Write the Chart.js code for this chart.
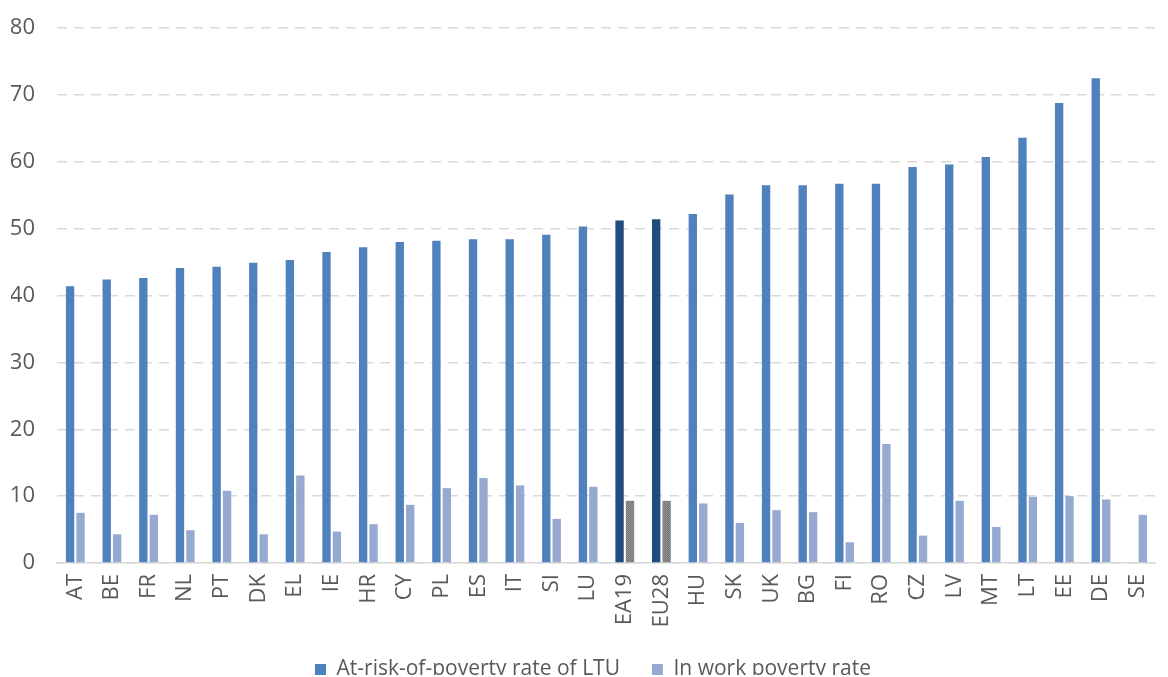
<!DOCTYPE html>
<html>
<head>
<meta charset="utf-8">
<script src="https://cdn.jsdelivr.net/npm/chart.js@4/dist/chart.umd.min.js"></script>
<style>
  html, body { margin: 0; padding: 0; background: #fff; overflow: hidden; }
  #wrap { position: absolute; left: 0; top: 0; width: 1175px; height: 677px; }
</style>
</head>
<body>
<div id="wrap"><canvas id="povertyChart" width="1175" height="677"></canvas></div>
<script>
// Countries, sorted by the LTU poverty rate; EA19 / EU28 are the aggregates
const countries = ["AT", "BE", "FR", "NL", "PT", "DK", "EL", "IE", "HR", "CY", "PL", "ES", "IT", "SI", "LU",
  "EA19", "EU28", "HU", "SK", "UK", "BG", "FI", "RO", "CZ", "LV", "MT", "LT", "EE", "DE", "SE"];

const ltuRate = [41.4, 42.4, 42.6, 44.1, 44.3, 44.9, 45.3, 46.5, 47.2, 48.0, 48.2, 48.4, 48.4, 49.1, 50.3,
  51.2, 51.4, 52.2, 55.1, 56.5, 56.5, 56.7, 56.7, 59.2, 59.6, 60.7, 63.6, 68.8, 72.5, null];

const inWorkRate = [7.5, 4.3, 7.2, 4.9, 10.8, 4.3, 13.1, 4.7, 5.8, 8.7, 11.2, 12.7, 11.6, 6.6, 11.4,
  9.3, 9.3, 8.9, 6.0, 7.9, 7.6, 3.1, 17.8, 4.1, 9.3, 5.4, 9.9, 10.0, 9.5, 7.2];

const yTicks = [0, 10, 20, 30, 40, 50, 60, 70, 80];

const aggregates = ["EA19", "EU28"];
const textColor = "#595959";
const gridColor = "#d9d9d9";

const canvas = document.getElementById("povertyChart");
const ctx = canvas.getContext("2d");

// speckled grey fill for the aggregate in-work bars
const tile = document.createElement("canvas");
tile.width = 2;
tile.height = 2;
const t = tile.getContext("2d");
t.fillStyle = "#7a7a7a";
t.fillRect(0, 0, 2, 2);
t.fillStyle = "#8e8e8e";
t.fillRect(0, 0, 1, 1);
t.fillRect(1, 1, 1, 1);
const greyPattern = ctx.createPattern(tile, "repeat");

const ltuColors = countries.map((c) => (aggregates.includes(c) ? "#214d7e" : "#4f81bd"));
const inWorkColors = countries.map((c) => (aggregates.includes(c) ? greyPattern : "#95a9d1"));

new Chart(ctx, {
  type: "bar",
  data: {
    labels: countries,
    datasets: [
      {
        label: "At-risk-of-poverty rate of LTU",
        data: ltuRate,
        backgroundColor: ltuColors,
        borderWidth: 0,
        categoryPercentage: 0.57,
        barPercentage: 0.8,
      },
      {
        label: "In work poverty rate",
        data: inWorkRate,
        backgroundColor: inWorkColors,
        borderWidth: 0,
        categoryPercentage: 0.57,
        barPercentage: 0.8,
      },
    ],
  },
  options: {
    responsive: false,
    animation: false,
    layout: { padding: { left: 11, right: 0, top: 28, bottom: 2 } },
    plugins: {
      tooltip: { enabled: false },
      legend: {
        position: "bottom",
        maxHeight: 48,
        labels: {
          generateLabels: () => [
            { text: "At-risk-of-poverty rate of LTU", fillStyle: "#4f81bd", strokeStyle: "#4f81bd", lineWidth: 0, fontColor: textColor, datasetIndex: 0 },
            { text: "In work poverty rate", fillStyle: "#95a9d1", strokeStyle: "#95a9d1", lineWidth: 0, fontColor: textColor, datasetIndex: 1 },
          ],
          boxWidth: 11,
          boxHeight: 11,
          padding: 32,
          color: textColor,
          font: { family: "Open Sans", size: 21 },
        },
      },
    },
    scales: {
      x: {
        grid: { display: false, drawTicks: false },
        border: { display: true, color: gridColor, width: 1.5 },
        afterFit: (scale) => {
          scale.height = 64;
        },
        ticks: {
          color: textColor,
          font: { family: "Open Sans", size: 22 },
          minRotation: 90,
          maxRotation: 90,
          autoSkip: false,
          padding: 11,
        },
      },
      y: {
        min: 0,
        max: 80,
        afterBuildTicks: (scale) => {
          scale.ticks = yTicks.map((v) => ({ value: v }));
        },
        afterFit: (scale) => {
          // keep the label gap out of the top/bottom padding
          scale.width = 46;
          scale.paddingTop = 0;
          scale.paddingBottom = 0;
        },
        grid: { color: gridColor, lineWidth: 1.5, drawTicks: false },
        border: { display: false, dash: [10, 7] },
        ticks: {
          color: textColor,
          font: { family: "Open Sans", size: 22 },
          padding: 22,
        },
      },
    },
  },
});
</script>
</body>
</html>
